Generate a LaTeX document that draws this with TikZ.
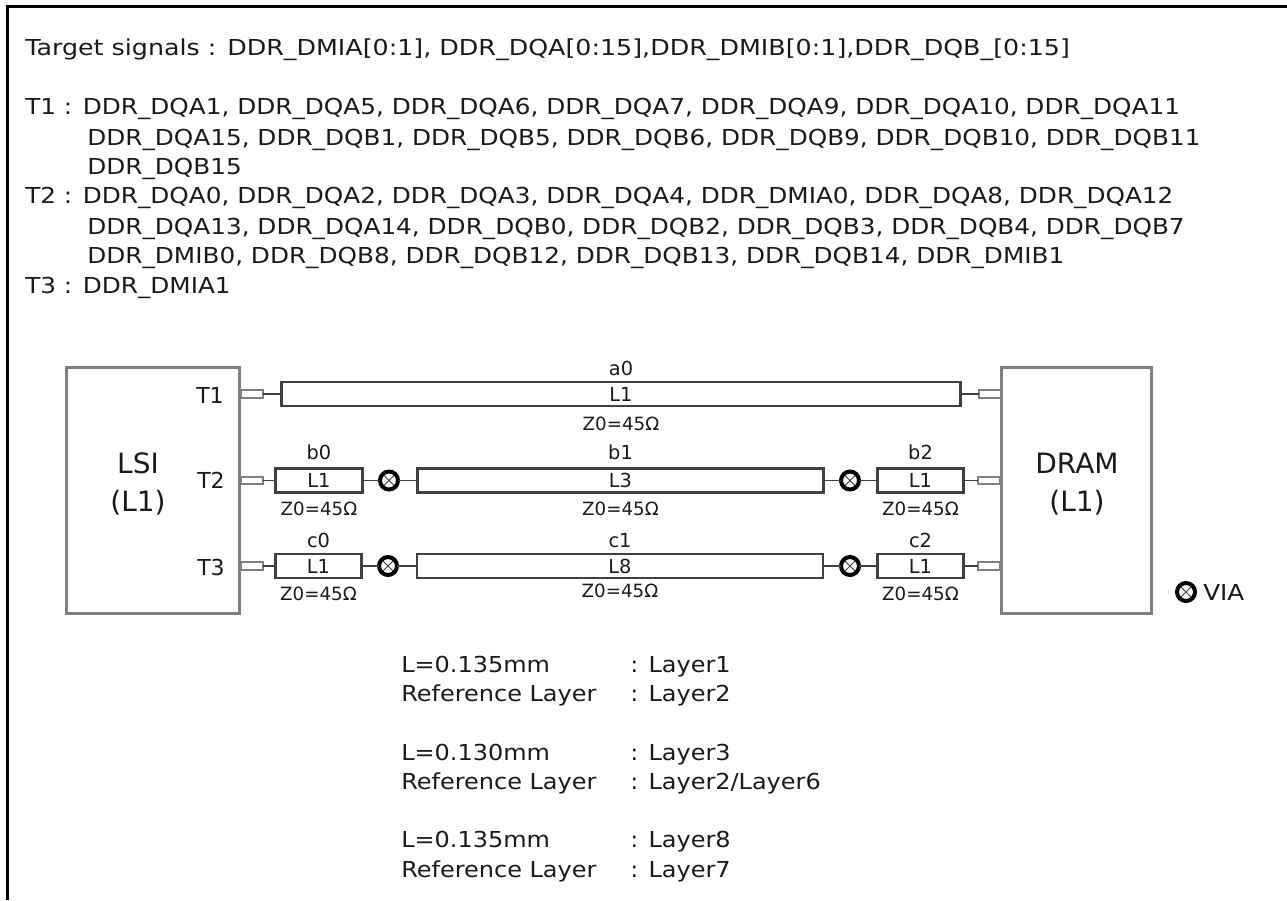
\documentclass[tikz,border=0pt]{standalone}
\usepackage{fontspec}
\setmainfont{DejaVu Sans}
\newfontfamily\targetfont[FakeStretch=1.152]{DejaVu Sans}
\newfontfamily\listfont[FakeStretch=1.124]{DejaVu Sans}
\newfontfamily\notefont[FakeStretch=1.09]{DejaVu Sans}
\usepackage{tikz}
\usetikzlibrary{positioning,calc}
\definecolor{linedark}{HTML}{404040}
\definecolor{linegray}{HTML}{808080}
\definecolor{txtdark}{HTML}{1A1A1A}

\begin{document}
\begin{tikzpicture}[x=0.75pt,y=-0.75pt,text=txtdark]
\tikzstyle{txt}=[anchor=base west,inner sep=0pt,font=\listfont\fontsize{16.5}{19}\selectfont]
\tikzstyle{note}=[anchor=base west,inner sep=0pt,font=\notefont\fontsize{16.5}{19}\selectfont]
\tikzstyle{chip}=[draw=linegray,line width=2.2pt,fill=white,minimum width=130pt,minimum height=184pt,outer sep=0pt]
\tikzstyle{chiptxt}=[align=center,inner sep=0pt,font=\fontsize{21}{28.5}\selectfont]
\tikzstyle{pad}=[draw=linegray,line width=1.6pt,fill=white,minimum width=16.5pt,minimum height=5.8pt,inner sep=0pt,outer sep=0pt]
\tikzstyle{trace}=[draw=linedark,line width=2.2pt,fill=white,minimum height=18pt,inner sep=0pt,outer sep=0pt,font=\fontsize{14.5}{17}\selectfont]
\tikzstyle{wire}=[draw=linedark,line width=1.1pt]
\tikzstyle{via}=[circle,draw=black,line width=3pt,fill=white,minimum size=13.5pt,inner sep=0pt,outer sep=0pt,
  path picture={\draw[linedark,line width=0.7pt] (path picture bounding box.north west) -- (path picture bounding box.south east)
    (path picture bounding box.north east) -- (path picture bounding box.south west);}]
\tikzstyle{toplabel}=[inner sep=0pt,font=\fontsize{14.5}{17}\selectfont]
\tikzstyle{zlabel}=[inner sep=0pt,font=\fontsize{13.7}{15}\selectfont]
\tikzstyle{sidelabel}=[anchor=base east,inner sep=0pt,font=\fontsize{16.5}{19}\selectfont]

\useasboundingbox (0,0) rectangle (1287,900);

% outer frame
\coordinate (framebl) at (7.5,900);
\coordinate (frametr) at (1287,6.5);
\draw[black,line width=2.2pt] (framebl) |- (frametr);

% signal list
\node[txt,font=\targetfont\fontsize{16.5}{19}\selectfont] (target) at (25,55) {Target signals : DDR\_DMIA[0:1], DDR\_DQA[0:15],DDR\_DMIB[0:1],DDR\_DQB\_[0:15]};
\node[txt] (tonea) at (25,114) {T1 : DDR\_DQA1, DDR\_DQA5, DDR\_DQA6, DDR\_DQA7, DDR\_DQA9, DDR\_DQA10, DDR\_DQA11};
\node[txt] (toneb) at (87,145) {DDR\_DQA15, DDR\_DQB1, DDR\_DQB5, DDR\_DQB6, DDR\_DQB9, DDR\_DQB10, DDR\_DQB11};
\node[txt] (tonec) at (87,174) {DDR\_DQB15};
\node[txt] (ttwoa) at (25,203) {T2 : DDR\_DQA0, DDR\_DQA2, DDR\_DQA3, DDR\_DQA4, DDR\_DMIA0, DDR\_DQA8, DDR\_DQA12};
\node[txt] (ttwob) at (87,234) {DDR\_DQA13, DDR\_DQA14, DDR\_DQB0, DDR\_DQB2, DDR\_DQB3, DDR\_DQB4, DDR\_DQB7};
\node[txt] (ttwoc) at (87,263) {DDR\_DMIB0, DDR\_DQB8, DDR\_DQB12, DDR\_DQB13, DDR\_DQB14, DDR\_DMIB1};
\node[txt] (tthree) at (25,293) {T3 : DDR\_DMIA1};

% chips
\node[chip] (lsi) at (153,490.5) {};
\node[chip,minimum width=112pt] (dram) at (1076.5,490.5) {};
\node[chiptxt] (lsitxt) at (138,484) {LSI\\(L1)};
\node[chiptxt] (dramtxt) at (1077,484) {DRAM\\(L1)};

\node[sidelabel] (tone) at (224,403) {T1};
\node[sidelabel] (ttwo) at (225,488) {T2};
\node[sidelabel] (tthr) at (225,575) {T3};

% pads
\node[pad] (padal) at (252,394) {};
\node[pad] (padar) at (990,394) {};
\node[pad] (padbl) at (252,480.5) {};
\node[pad] (padbr) at (989,480.5) {};
\node[pad] (padcl) at (252,566) {};
\node[pad] (padcr) at (989,566) {};

% traces
\node[trace,minimum width=509pt] (azero) at (621,394) {L1};
\node[trace,minimum width=65pt] (bzero) at (319,480.5) {L1};
\node[trace,minimum width=304.5pt] (bone) at (620.5,480.5) {L3};
\node[trace,minimum width=65pt] (btwo) at (920.5,480.5) {L1};
\node[trace,minimum width=65pt] (czero) at (318.5,566) {L1};
\node[trace,minimum width=304.5pt] (cone) at (620,566) {L8};
\node[trace,minimum width=65pt] (ctwo) at (920.5,566) {L1};

% vias
\node[via] (viabl) at (389,480.5) {};
\node[via] (viabr) at (850,480.5) {};
\node[via] (viacl) at (388,566) {};
\node[via] (viacr) at (850,566) {};

% labels
\node[toplabel,above=4.5pt of azero] (lblazero) {a0};
\node[toplabel,above=6.5pt of bzero] (lblbzero) {b0};
\node[toplabel,above=6.5pt of bone] (lblbone) {b1};
\node[toplabel,above=6.5pt of btwo] (lblbtwo) {b2};
\node[toplabel,above=4.5pt of czero] (lblczero) {c0};
\node[toplabel,above=4.5pt of cone] (lblcone) {c1};
\node[toplabel,above=4.5pt of ctwo] (lblctwo) {c2};

\node[zlabel,below=8pt of azero] (zazero) {Z0=45Ω};
\node[zlabel,below=7pt of bzero] (zbzero) {Z0=45Ω};
\node[zlabel,below=7pt of bone] (zbone) {Z0=45Ω};
\node[zlabel,below=7pt of btwo] (zbtwo) {Z0=45Ω};
\node[zlabel,below=6.5pt of czero] (zczero) {Z0=45Ω};
\node[zlabel,below=4pt of cone] (zcone) {Z0=45Ω};
\node[zlabel,below=6.5pt of ctwo] (zctwo) {Z0=45Ω};

% wires
\draw[wire] (padal) -- (azero);
\draw[wire] (azero) -- (padar);
\draw[wire] (padbl) -- (bzero);
\draw[wire] (bzero) -- (viabl);
\draw[wire] (viabl) -- (bone);
\draw[wire] (bone) -- (viabr);
\draw[wire] (viabr) -- (btwo);
\draw[wire] (btwo) -- (padbr);
\draw[wire] (padcl) -- (czero);
\draw[wire] (czero) -- (viacl);
\draw[wire] (viacl) -- (cone);
\draw[wire] (cone) -- (viacr);
\draw[wire] (viacr) -- (ctwo);
\draw[wire] (ctwo) -- (padcr);

% legend
\node[via] (vialegend) at (1186,592) {};
\node[txt] (vialabel) at (1203,600.5) {VIA};

% layer notes
\node[note] (lena) at (401,672) {L=0.135mm};
\node[note] (laya) at (630,672) {: Layer1};
\node[note] (refa) at (401,701) {Reference Layer};
\node[note] (rlaya) at (630,701) {: Layer2};
\node[note] (lenb) at (401,760) {L=0.130mm};
\node[note] (layb) at (630,760) {: Layer3};
\node[note] (refb) at (401,789) {Reference Layer};
\node[note] (rlayb) at (630,789) {: Layer2/Layer6};
\node[note] (lenc) at (401,847) {L=0.135mm};
\node[note] (layc) at (630,847) {: Layer8};
\node[note] (refc) at (401,877) {Reference Layer};
\node[note] (rlayc) at (630,877) {: Layer7};
\end{tikzpicture}
\end{document}
